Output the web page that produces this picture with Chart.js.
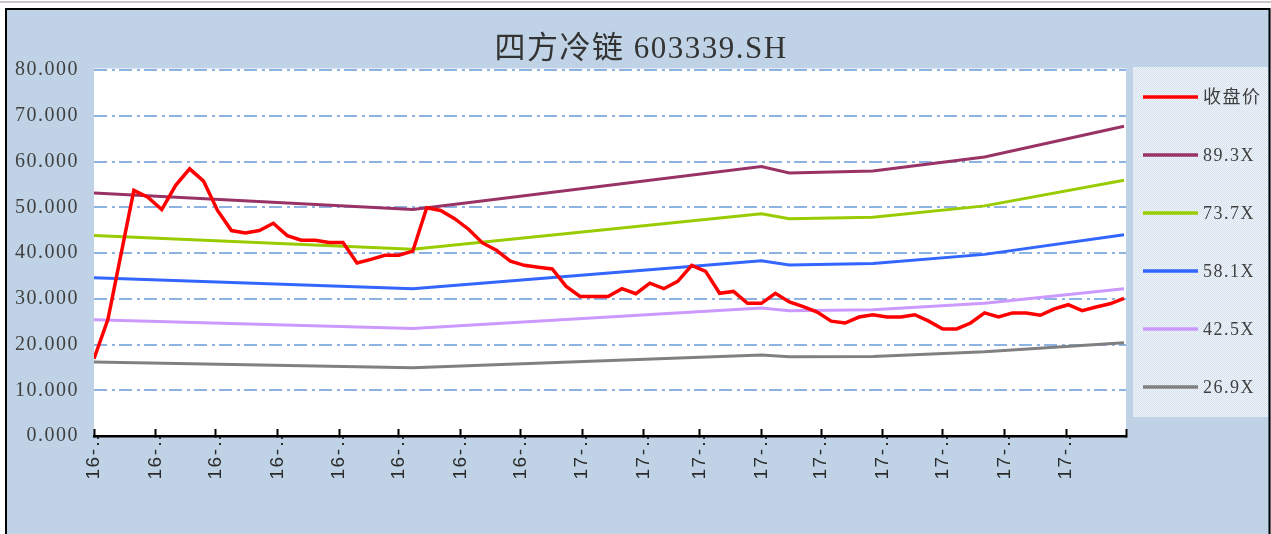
<!DOCTYPE html>
<html lang="zh">
<head>
<meta charset="utf-8">
<title>四方冷链 603339.SH</title>
<script src="https://cdn.jsdelivr.net/npm/chart.js@4.4.1/dist/chart.umd.min.js"></script>
<style>
  html, body { margin: 0; padding: 0; background: #fff; }
  #wrap { position: relative; width: 1271px; height: 534px; }
</style>
</head>
<body>
<div id="wrap"><canvas id="chart" width="1271" height="534"></canvas></div>
<script>
const chartTitle = "四方冷链 603339.SH";

// x values are days counted from 2016-05-01, the start of the axis
const tickDays = [0, 31, 61, 92, 123, 153, 184, 214, 245, 276, 304, 335, 365, 396, 426, 457, 488, 518];
const tickLabels = [
  "16-…", "16-…", "16-…", "16-…", "16-…", "16-…", "16-…", "16-…",
  "17-…", "17-…", "17-…", "17-…", "17-…", "17-…", "17-…", "17-…", "17-…", "",
];

const priceDays = [
  0, 7, 20, 27, 34, 41, 48, 55, 62, 69, 76, 83, 90, 97, 104, 111, 118, 125, 132, 139,
  146, 153, 160, 167, 174, 181, 188, 195, 202, 209, 216, 223, 230, 237, 244, 251, 258,
  265, 272, 279, 286, 293, 300, 307, 314, 321, 328, 335, 342, 349, 356, 363, 370, 377,
  384, 391, 398, 405, 412, 419, 426, 433, 440, 447, 454, 461, 468, 475, 482, 489, 496,
  503, 510, 517,
];
const priceValues = [
  16.9, 25.5, 53.7, 52.2, 49.5, 54.8, 58.4, 55.7, 49.3, 44.9, 44.4, 44.9, 46.5, 43.8,
  42.8, 42.8, 42.3, 42.3, 37.8, 38.6, 39.5, 39.5, 40.4, 49.9, 49.3, 47.5, 45.2, 42.2,
  40.6, 38.2, 37.3, 36.9, 36.5, 32.7, 30.5, 30.5, 30.5, 32.2, 31.1, 33.4, 32.2, 33.8,
  37.3, 36.0, 31.2, 31.6, 29.0, 29.0, 31.2, 29.3, 28.3, 27.1, 25.1, 24.7, 26.0, 26.5,
  26.0, 26.0, 26.5, 25.1, 23.4, 23.4, 24.7, 26.9, 26.0, 26.9, 26.9, 26.4, 27.8, 28.7,
  27.4, 28.2, 28.9, 30.1,
];

// PE bands change only at these days
const bandDays = [0, 160, 335, 349, 391, 447, 517];
const band893 = [53.1, 49.5, 58.9, 57.5, 57.9, 61.0, 67.7];
const band737 = [43.8, 40.8, 48.6, 47.5, 47.8, 50.3, 55.9];
const band581 = [34.6, 32.2, 38.3, 37.4, 37.7, 39.7, 44.0];
const band425 = [25.4, 23.5, 28.0, 27.4, 27.6, 29.0, 32.2];
const band269 = [16.2, 14.9, 17.7, 17.3, 17.4, 18.4, 20.4];

const seriesNames = ["收盘价", "89.3X", "73.7X", "58.1X", "42.5X", "26.9X"];
const seriesColors = ["#ff0000", "#993366", "#99cc00", "#3366ff", "#cc99ff", "#808080"];

const serifFont = "'Liberation Serif', 'Noto Sans CJK SC', serif";

function toPoints(days, values) {
  return days.map((d, i) => ({ x: d, y: values[i] }));
}

function makeDataset(index, days, values, width) {
  return {
    label: seriesNames[index],
    data: toPoints(days, values),
    borderColor: seriesColors[index],
    backgroundColor: seriesColors[index],
    borderWidth: width,
    pointRadius: 0,
    tension: 0,
    fill: false,
  };
}

function legendPattern(ctx) {
  const tile = document.createElement("canvas");
  tile.width = 2;
  tile.height = 2;
  const t = tile.getContext("2d");
  t.fillStyle = "#f1f5fa";
  t.fillRect(0, 0, 2, 2);
  t.fillStyle = "#d3e0ed";
  t.fillRect(0, 0, 1, 1);
  t.fillRect(1, 1, 1, 1);
  return ctx.createPattern(tile, "repeat");
}

const framePlugin = {
  id: "frame",
  beforeDraw(chart) {
    const { ctx, chartArea: a, width, height } = chart;
    ctx.save();
    ctx.fillStyle = "#fff";
    ctx.fillRect(0, 0, width, height);
    ctx.fillStyle = "#cbc3cb";
    ctx.fillRect(0, 1, width, 2);
    ctx.fillStyle = "#c0d3e6";
    ctx.fillRect(5, 8, width - 5, height);
    ctx.strokeStyle = "#000";
    ctx.lineWidth = 2;
    ctx.beginPath();
    ctx.moveTo(6, height);
    ctx.lineTo(6, 9);
    ctx.lineTo(1269.5, 9);
    ctx.lineTo(1269.5, height);
    ctx.stroke();
    ctx.fillStyle = "#fff";
    ctx.fillRect(a.left, a.top - 1.5, a.right - a.left, a.bottom - a.top + 1.5);
    ctx.fillStyle = legendPattern(ctx);
    ctx.fillRect(1133, 67, 135, 350);
    ctx.restore();
    ctx.letterSpacing = "1.5px";
  },
  afterDraw(chart) {
    const ctx = chart.ctx;
    ctx.save();
    ctx.letterSpacing = "1.5px";
    ctx.fillStyle = "#333";
    ctx.font = `31px ${serifFont}`;
    ctx.textAlign = "center";
    ctx.textBaseline = "middle";
    ctx.fillText(chartTitle, 641, 50);

    ctx.font = `18px ${serifFont}`;
    ctx.textAlign = "left";
    chart.data.datasets.forEach((ds, i) => {
      const y = 97 + i * 58;
      ctx.strokeStyle = ds.borderColor;
      ctx.lineWidth = 3.5;
      ctx.beginPath();
      ctx.moveTo(1143, y);
      ctx.lineTo(1198, y);
      ctx.stroke();
      ctx.fillStyle = "#404040";
      ctx.fillText(ds.label, 1203, y + 1);
    });
    ctx.restore();
  },
};

new Chart(document.getElementById("chart"), {
  type: "line",
  data: {
    datasets: [
      makeDataset(0, priceDays, priceValues, 3.5),
      makeDataset(1, bandDays, band893, 3),
      makeDataset(2, bandDays, band737, 3),
      makeDataset(3, bandDays, band581, 3),
      makeDataset(4, bandDays, band425, 3),
      makeDataset(5, bandDays, band269, 3),
    ],
  },
  options: {
    responsive: false,
    animation: false,
    events: [],
    layout: { padding: { top: 70, right: 145, bottom: 0, left: 0 } },
    plugins: { legend: { display: false }, tooltip: { enabled: false }, title: { display: false } },
    scales: {
      y: {
        min: 0,
        max: 80,
        afterFit: (scale) => { scale.width = 94; },
        ticks: {
          stepSize: 10,
          padding: 15,
          color: "#404040",
          font: { family: serifFont, size: 20 },
          callback: (value) => Number(value).toFixed(3),
        },
        grid: {
          color: (c) => (c.tick && c.tick.value === 0 ? "rgba(0,0,0,0)" : "#8db3e2"),
          lineWidth: 2,
          drawTicks: false,
        },
        border: { display: false, dash: [13, 5, 3, 4] },
      },
      x: {
        type: "linear",
        min: 0,
        max: 518,
        afterBuildTicks: (scale) => { scale.ticks = tickDays.map((v) => ({ value: v })); },
        afterFit: (scale) => { scale.height = 98; },
        ticks: {
          autoSkip: false,
          minRotation: 90,
          maxRotation: 90,
          padding: -2,
          color: "#2b2b2b",
          font: { family: "'Liberation Sans', Arial, sans-serif", size: 19 },
          callback: (value, index) => tickLabels[index],
        },
        grid: { drawOnChartArea: false, drawTicks: true, tickLength: -7, tickColor: "#000", tickWidth: 2 },
        border: { display: true, color: "#000", width: 2.5 },
      },
    },
  },
  plugins: [framePlugin],
});
</script>
</body>
</html>
